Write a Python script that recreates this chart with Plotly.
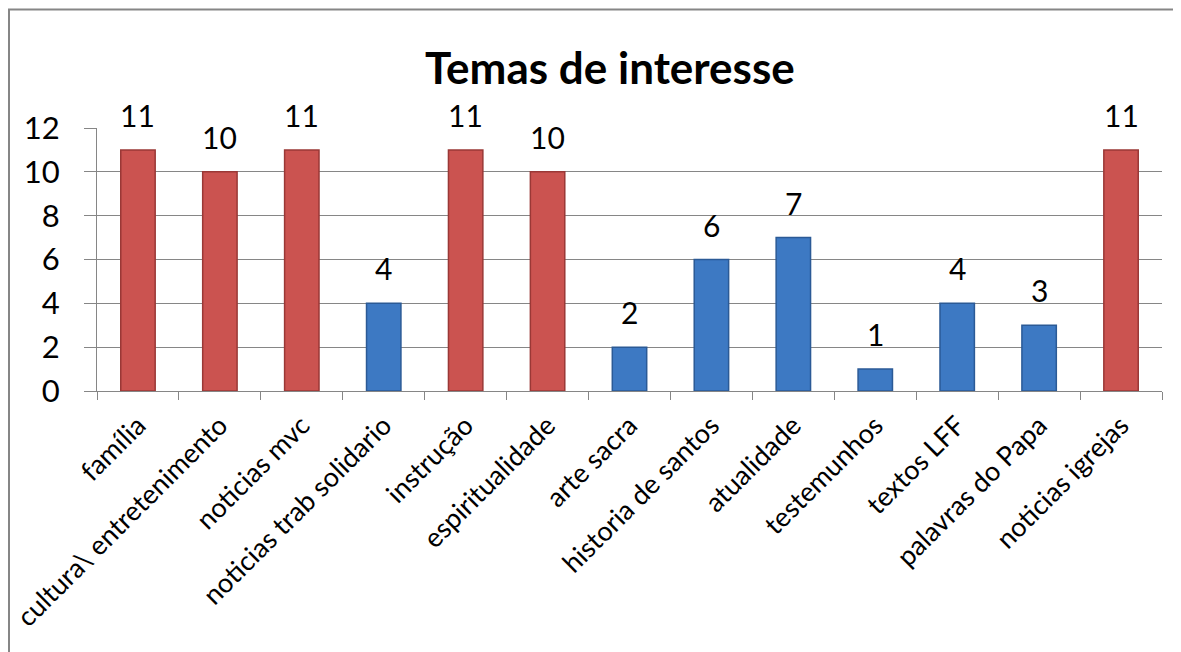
import plotly.graph_objects as go

categories = ["família", "cultura\\ entretenimento", "noticias mvc", "noticias trab solidario",
              "instrução", "espiritualidade", "arte sacra", "historia de santos", "atualidade",
              "testemunhos", "textos LFF", "palavras do Papa", "noticias igrejas"]
values = [11, 10, 11, 4, 11, 10, 2, 6, 7, 1, 4, 3, 11]
y_ticks = [0, 2, 4, 6, 8, 10, 12]
title_text = "Temas de interesse"

RED, RED_EDGE = "#CB5350", "#9A3836"
BLUE, BLUE_EDGE = "#3D79C3", "#2B5A96"
fill = [RED if v >= 10 else BLUE for v in values]
edge = [RED_EDGE if v >= 10 else BLUE_EDGE for v in values]

FONT = "Lato, Carlito, Calibri, sans-serif"

fig = go.Figure()
fig.add_trace(go.Bar(
    x=categories, y=values,
    marker=dict(color=fill, line=dict(color=edge, width=1.5)),
    width=0.42, showlegend=False, hoverinfo="x+y",
))

annotations = [
    dict(x=c, y=v, xref="x", yref="y", text=str(v), showarrow=False,
         yanchor="bottom", yshift=15, font=dict(family=FONT, size=30, color="black"))
    for c, v in zip(categories, values)
]
annotations.append(dict(text=f"<b>{title_text}</b>", xref="paper", yref="paper",
                        x=0.5, y=1.0, yanchor="middle", yshift=61, xshift=-20, showarrow=False,
                        font=dict(family=FONT, size=44, color="black")))

# the page body adds an 8 px offset; figure size and margins compensate for it
fig.update_layout(
    width=1173, height=644,
    margin=dict(l=89, r=19, t=120, b=261, autoexpand=False),
    paper_bgcolor="white", plot_bgcolor="white",
    font=dict(family=FONT, size=27, color="black"),
    annotations=annotations,
    shapes=[dict(type="rect", xref="paper", yref="paper",
                 xsizemode="pixel", ysizemode="pixel", xanchor=0, yanchor=0,
                 x0=-88, x1=2000, y0=-1000, y1=381.5,
                 line=dict(color="#868686", width=2), fillcolor="rgba(0,0,0,0)", layer="below")],
    xaxis=dict(
        type="category", tickangle=-45, tickson="boundaries", automargin=False,
        ticks="outside", ticklen=8, tickcolor="#868686", tickwidth=1,
        ticklabelstandoff=7,
        showline=True, linecolor="#868686", linewidth=1, mirror=False,
        showgrid=False, tickfont=dict(family=FONT, size=27, color="black"),
        range=[-0.5, len(categories) - 0.5],
    ),
    yaxis=dict(
        range=[0, 12], tickvals=y_ticks, ticktext=[str(t) for t in y_ticks],
        ticks="outside", ticklen=12, tickcolor="#868686", tickwidth=1,
        ticklabelstandoff=18, automargin=False,
        showline=True, linecolor="#868686", linewidth=1,
        showgrid=True, gridcolor="#868686", gridwidth=1, zeroline=False,
        tickfont=dict(family=FONT, size=31, color="black"),
    ),
)

fig.write_html("out.html")
